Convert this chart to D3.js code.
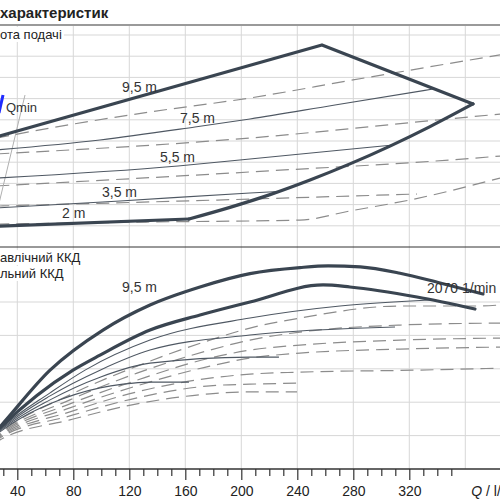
<!DOCTYPE html>
<html>
<head>
<meta charset="utf-8">
<script src="https://d3js.org/d3.v7.min.js"></script>
<style>
body { margin: 0; background: #fff; }
svg { display: block; font-family: "Liberation Sans", Arial, sans-serif; }
</style>
</head>
<body>
<svg width="500" height="500"></svg>
<script>

var width = 500;
var height = 500;

// axis values
var qTicks = [40, 80, 120, 160, 200, 240, 280, 320];
var qMinor = [10, 20, 30, 50, 60, 70, 90, 100, 110, 130, 140, 150, 170, 180, 190, 210, 220, 230, 250, 260, 270, 290, 300, 310, 330, 340, 350];
var qGrid = [40, 80, 120, 160, 200, 240, 280, 320, 360];
var hGrid = [1, 2, 3, 4, 5, 6, 7, 8, 9, 10];
var etaGrid = [10, 20, 30, 40, 50];

// top panel: head lines [Q l/min, H m]
var envUpper = [[20, 5.10], [257.6, 9.53], [365.5, 6.75]];
var envRight = [[162.6, 1.32], [191.9, 1.87], [220.5, 2.47], [249.1, 3.16], [277.6, 3.92], [306.2, 4.76], [334.8, 5.68], [365.5, 6.75]];
var envBottom = [[20, 0.97], [162.6, 1.32]];

var head75 = [[25, 4.58], [99, 5.05], [166.9, 5.66], [206.2, 6.04], [266.9, 6.70], [336.9, 7.45]];
var head55 = [[25, 3.25], [154.8, 3.82], [206.2, 4.15], [308.4, 4.81]];
var head35 = [[25, 1.84], [113.4, 2.17], [206.2, 2.55], [226.9, 2.62]];

var dashA = [[25, 5.14], [75.5, 5.75], [134.8, 6.37], [206.2, 7.03], [279.8, 7.88], [384.8, 9.06]];
var dashC = [[25, 4.39], [206.2, 5.14], [339.8, 5.99], [384.8, 6.27]];
var dashD = [[25, 2.88], [206.2, 3.54], [377.6, 4.25], [384.8, 4.29]];
var dashE = [[25, 1.93], [206.2, 2.26], [325.5, 2.50]];
var dashF = [[25, 1.08], [134.8, 1.18], [241.9, 1.27], [277.6, 1.70], [320.5, 2.22], [384.8, 3.25]];

var qminLine = [[45.5, 7.17], [26, 1.8]];
var qminMark = [[29.8, 7.17], [26.9, 6.32]];

// bottom panel: efficiency [Q l/min, eta %]
var effThickA = [[0, 0], [27.6, 12.6], [63.4, 29.6], [101.2, 41.6], [134.8, 49.1], [170.5, 54.5], [206.2, 58.5], [241.9, 60.3], [262, 60.8], [285, 60.5], [313.4, 58.6], [342, 55.7], [372.6, 52.4]];
var effThickB = [[0, 0], [27.6, 12.3], [79.8, 29.6], [99.1, 34.1], [134.8, 41.6], [170.5, 46.1], [206.2, 50.0], [258.4, 55.1], [277.6, 54.5], [325.5, 51.5], [366.9, 47.9]];
var eff75 = [[0, 0], [27.6, 12.0], [63.4, 22.8], [88.4, 29.6], [134.8, 38.6], [206.2, 45.2], [270.5, 48.8], [334.8, 50.6]];
var eff55 = [[0, 0], [27.6, 11.7], [63.4, 21.9], [99.1, 29.6], [134.8, 35.6], [206.2, 40.1], [309.8, 42.5]];
var eff35 = [[0, 0], [27.6, 11.4], [63.4, 20.7], [99.1, 27.5], [134.8, 31.7], [206.2, 33.5], [226.9, 33.5]];
var eff20 = [[0, 0], [27.6, 11.1], [63.4, 19.5], [99.1, 24.3], [115.5, 25.4], [134.8, 26.0], [162.6, 26.0]];

var tot1 = [[0, 0], [27.6, 10.8], [77.6, 22.2], [125.5, 30.8], [177.6, 38.6], [206.2, 42.2], [241.9, 45.2], [313.4, 48.8], [366.9, 48.8], [384.8, 49.1]];
var tot2 = [[0, 0], [27.6, 10.5], [77.6, 20.7], [125.5, 28.7], [177.6, 35.6], [206.2, 38.6], [241.9, 41.0], [313.4, 43.1], [384.8, 43.7]];
var tot3 = [[0, 0], [27.6, 10.2], [77.6, 19.5], [125.5, 26.6], [177.6, 33.2], [206.2, 35.6], [241.9, 37.1], [313.4, 38.6], [384.8, 39.2]];
var tot4 = [[0, 0], [27.6, 9.9], [77.6, 18.3], [125.5, 24.9], [177.6, 30.8], [206.2, 33.2], [241.9, 34.7], [313.4, 35.9], [384.8, 36.5]];
var tot5 = [[0, 0], [27.6, 9.6], [77.6, 17.1], [125.5, 23.1], [177.6, 27.2], [206.2, 28.4], [241.9, 29.0], [325.5, 29.6], [384.8, 30.2]];
var tot6 = [[0, 0], [27.6, 9.3], [77.6, 15.9], [125.5, 21.3], [177.6, 24.9], [206.2, 25.4], [241.9, 25.7]];
var tot7 = [[0, 0], [27.6, 8.7], [77.6, 14.7], [125.5, 19.5], [177.6, 22.5], [206.2, 23.1], [239.8, 23.1]];

// labels: [text, Q, value]
var topLabels = [["9,5 m", 114.8, 7.31], ["7,5 m", 156.2, 5.85], ["5,5 m", 141.9, 4.01], ["3,5 m", 100.5, 2.36], ["2 m", 71.9, 1.37]];
var botLabels = [["9,5 m", 114.8, 53.0], ["2070 1/min", 332.6, 52.7]];

var svg = d3.select("svg").attr("width", width).attr("height", height);

var x = d3.scaleLinear().domain([0, 360]).range([-38.7, 465.3]);
var yTop = d3.scaleLinear().domain([0, 10]).range([247, 35]);
var yBot = d3.scaleLinear().domain([0, 50]).range([469, 302]);

var lineTop = d3.line().x(function(d) { return x(d[0]); }).y(function(d) { return yTop(d[1]); }).curve(d3.curveMonotoneX);
var lineTopStraight = d3.line().x(function(d) { return x(d[0]); }).y(function(d) { return yTop(d[1]); });
var lineBot = d3.line().x(function(d) { return x(d[0]); }).y(function(d) { return yBot(d[1]); }).curve(d3.curveMonotoneX);

var gridColor = "#d7d7d7";
var thick = "#3a4551";
var thin = "#4f5863";
var dashCol = "#8c8c8c";

// grid
svg.selectAll(".vgrid").data(qGrid).enter().append("line")
.attr("x1", function(d) { return x(d); }).attr("x2", function(d) { return x(d); })
.attr("y1", 25).attr("y2", yBot(0))
.style("stroke", gridColor).style("stroke-width", 1);

svg.selectAll(".hgrid").data(hGrid).enter().append("line")
.attr("x1", 0).attr("x2", width)
.attr("y1", function(d) { return yTop(d); }).attr("y2", function(d) { return yTop(d); })
.style("stroke", gridColor).style("stroke-width", 1);

svg.selectAll(".egrid").data(etaGrid).enter().append("line")
.attr("x1", 0).attr("x2", width)
.attr("y1", function(d) { return yBot(d); }).attr("y2", function(d) { return yBot(d); })
.style("stroke", gridColor).style("stroke-width", 1);

// header line and panel separator
svg.append("line").attr("x1", 0).attr("x2", width).attr("y1", 25).attr("y2", 25)
.style("stroke", "#9a9a9a").style("stroke-width", 2);
svg.append("line").attr("x1", 0).attr("x2", width).attr("y1", yTop(0)).attr("y2", yTop(0))
.style("stroke", "#333").style("stroke-width", 1);

// x axis
svg.append("line").attr("x1", 0).attr("x2", width).attr("y1", yBot(0)).attr("y2", yBot(0))
.style("stroke", "#333").style("stroke-width", 1.5);

var axisMajor = svg.append("g").attr("transform", "translate(0," + yBot(0) + ")")
.call(d3.axisBottom(x).tickValues(qTicks).tickSize(11).tickPadding(6));
var axisMinor = svg.append("g").attr("transform", "translate(0," + yBot(0) + ")")
.call(d3.axisBottom(x).tickValues(qMinor).tickSize(7).tickFormat(""));
svg.selectAll(".domain").remove();
svg.selectAll(".tick line").style("stroke", "#333").style("stroke-width", 1.2);
axisMajor.selectAll("text").style("font-size", "14px").style("fill", "#222")
.style("font-family", "'Liberation Sans', Arial, sans-serif");

var qLabel = svg.append("text").attr("x", x(360) + 6).attr("y", 496)
.style("font-size", "14px").style("fill", "#222");
qLabel.append("tspan").style("font-style", "italic").text("Q");
qLabel.append("tspan").text(" / l/min");

// top panel lines
var topDashed = [dashA, dashC, dashD, dashE, dashF];
svg.selectAll(".tdash").data(topDashed).enter().append("path")
.attr("d", lineTop)
.style("fill", "none").style("stroke", dashCol).style("stroke-width", 1.2).style("stroke-dasharray", "13,7");

svg.append("path").attr("d", lineTopStraight(qminLine))
.style("fill", "none").style("stroke", "#b0b0b0").style("stroke-width", 1);

var topThin = [head75, head55, head35];
svg.selectAll(".tthin").data(topThin).enter().append("path")
.attr("d", lineTop)
.style("fill", "none").style("stroke", thin).style("stroke-width", 1.1);

[lineTopStraight(envUpper), lineTop(envRight), lineTopStraight(envBottom)].forEach(function(p) {
	svg.append("path").attr("d", p)
	.style("fill", "none").style("stroke", thick).style("stroke-width", 3.2)
	.style("stroke-linecap", "round").style("stroke-linejoin", "round");
});

svg.append("path").attr("d", lineTopStraight(qminMark))
.style("fill", "none").style("stroke", "#1f2bff").style("stroke-width", 3);

// bottom panel lines
var botDashed = [tot1, tot2, tot3, tot4, tot5, tot6, tot7];
svg.selectAll(".bdash").data(botDashed).enter().append("path")
.attr("d", lineBot)
.style("fill", "none").style("stroke", dashCol).style("stroke-width", 1.2).style("stroke-dasharray", "13,7");

var botThin = [eff75, eff55, eff35, eff20];
svg.selectAll(".bthin").data(botThin).enter().append("path")
.attr("d", lineBot)
.style("fill", "none").style("stroke", thin).style("stroke-width", 1.1);

[effThickA, effThickB].forEach(function(s) {
	svg.append("path").attr("d", lineBot(s))
	.style("fill", "none").style("stroke", thick).style("stroke-width", 3.2)
	.style("stroke-linecap", "round");
});

// texts
function boxedText(str, tx, ty, size) {
	var t = svg.append("text").attr("x", tx).attr("y", ty)
	.style("font-size", size).style("fill", "#222").text(str);
	var b = t.node().getBBox();
	svg.insert("rect", function() { return t.node(); })
	.attr("x", b.x - 1).attr("y", b.y).attr("width", b.width + 3).attr("height", b.height)
	.style("fill", "#fff");
	return t;
}

svg.append("text").attr("x", 0).attr("y", 18)
.style("font-size", "15px").style("font-weight", "bold").style("fill", "#222")
.text("характеристик");

boxedText("ота подачі", 0, 39, "13px");
boxedText("авлічний ККД", 0, 262, "13px");
boxedText("льний ККД", 0, 278, "13px");

svg.append("text").attr("x", 6).attr("y", 112)
.style("font-size", "13px").style("fill", "#333").text("Qmin");

svg.selectAll(".tlab").data(topLabels).enter().append("text")
.attr("x", function(d) { return x(d[1]); }).attr("y", function(d) { return yTop(d[2]); })
.style("font-size", "14px").style("fill", "#333")
.text(function(d) { return d[0]; });

svg.selectAll(".blab").data(botLabels).enter().append("text")
.attr("x", function(d) { return x(d[1]); }).attr("y", function(d) { return yBot(d[2]); })
.style("font-size", "14px").style("fill", "#333")
.text(function(d) { return d[0]; });

</script>
</body>
</html>
